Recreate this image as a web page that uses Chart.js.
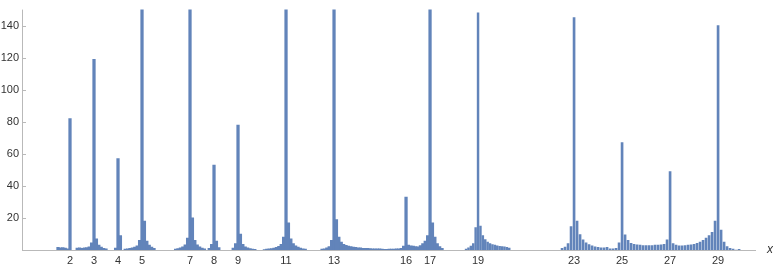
<!DOCTYPE html>
<html><head><meta charset="utf-8">
<script src="https://cdn.jsdelivr.net/npm/chart.js@4"></script>
<style>html,body{margin:0;padding:0;background:#fff;overflow:hidden}</style>
</head><body>
<canvas id="c" width="773" height="270"></canvas>
<script>
// Tick labels
const xTicks = [2,3,4,5,7,8,9,11,13,16,17,19,23,25,27,29];
const yTicks = [20,40,60,80,100,120,140];

// Dense clusters (sample step 0.1): start x and values
const fineStep = 0.1;
const near2  = [1.6,1.3,1.5,1.2,0.8,82];
const near3  = [1.2,1.4,1.1,1.3,1.5,2.0,4.5,119,7,3,1.8,1.1,0.7];
const near4  = [1.2,57,9];
const near5  = [0.6,0.8,1.0,1.3,1.8,2.6,6,200,18,5.5,3,1.8,1.0];
const near7  = [0.6,0.9,1.3,2.0,3.2,7.5,200,20,6,3.2,2.0,1.2,0.7];
const near8  = [1.0,3.5,53,5.5,1.5];
const near9  = [1.2,4,78,10,3.5,2.0,1.3,0.9,0.6,0.4];
const near11 = [0.3,0.5,0.7,0.9,1.2,1.6,2.3,3.5,8,200,17,7,4,2.6,1.8,1.2,0.8,0.5];
const near13 = [0.5,0.8,1.3,2.2,6,200,19,8,5,3.6,2.9,2.4,2.1,1.8,1.6,1.4,1.3,1.1,1.0,1.0,0.9,0.8,0.8,0.7,0.8,0.5,0.4];
const near16 = [0.4,0.5,0.5,0.6,0.7,0.8,1.0,2.5,33,3,2.6,2.5,2.2];
const near17 = [2.0,2.8,4.0,5.5,9,200,17,8,4,2.2,1.0];
const near19 = [0.6,1.4,2.5,4,14,148,15,9,6.5,5,4,3.4,3.0,2.6,2.3,2.1,1.9,1.6,1.2];
const fineStarts = [1.5,2.3,3.9,4.3,6.4,7.8,8.8,10.1,12.5,15.2,16.5];
const fineClusters = [near2,near3,near4,near5,near7,near8,near9,near11,near13,near16,near17];
const midStart = 18.5;

// Coarse clusters (sample step 1/8)
const coarseStep = 0.125;
const near23 = [1.0,1.8,4,14.6,145,18,9.6,6.4,4.4,3.4,2.6,2.0,1.6,1.4,1.4,1.6,0.8,0.8];
const from25 = [1.0,4.4,67,9.5,6,4.2,3.6,3.3,3.0,2.8,2.7,2.7,2.8,3.0,3.0,3.2,3.6,6.4,49,4,3,2.6,2.6,2.8,3.0,3.2,3.6,4.2,5,6,7.5,9,11,18,140,12.4,5,2.2,1.0,0.5,0,0.4];
const coarseStarts = [22.5,24.75];
const coarseClusters = [near23,from25];

function pts(starts, clusters, step){
  const out = [];
  clusters.forEach((vals,k)=>{
    vals.forEach((v,i)=>out.push({x:+(starts[k]+i*step).toFixed(4), y:v}));
  });
  return out;
}

const barColor = 'rgb(98,132,186)';
const axisColor = '#b9b9b9';
const labelColor = '#333';
const FONT = '"Liberation Sans", Arial, sans-serif';

const decor = {
  id:'decor',
  beforeDatasetsDraw(chart){
    const {ctx, chartArea:a, scales:{x,y}} = chart;
    ctx.save();
    ctx.strokeStyle = axisColor; ctx.lineWidth = 1;
    ctx.beginPath();
    ctx.moveTo(a.left+0.5, a.top); ctx.lineTo(a.left+0.5, a.bottom);
    ctx.moveTo(a.left, a.bottom+0.5); ctx.lineTo(a.right, a.bottom+0.5);
    yTicks.forEach(v=>{const p=Math.round(y.getPixelForValue(v))+0.5; ctx.moveTo(a.left,p); ctx.lineTo(a.left+4,p);});
    xTicks.forEach(v=>{const p=Math.round(x.getPixelForValue(v))+0.5; ctx.moveTo(p,a.bottom); ctx.lineTo(p,a.bottom-3);});
    ctx.stroke();
    ctx.restore();
  },
  afterDraw(chart){
    const {ctx, chartArea:a} = chart;
    ctx.save();
    ctx.fillStyle = labelColor;
    ctx.font = 'italic 12px ' + FONT;
    ctx.textBaseline = 'middle'; ctx.textAlign = 'left';
    ctx.fillText('x', a.right+11, a.bottom);
    ctx.restore();
  }
};

new Chart(document.getElementById('c'), {
  type:'bar',
  data:{datasets:[
    {data:pts(fineStarts,fineClusters,fineStep), backgroundColor:barColor, barThickness:2.6, grouped:false},
    {data:pts([midStart],[near19],fineStep), backgroundColor:barColor, barThickness:1.8, grouped:false},
    {data:pts(coarseStarts,coarseClusters,coarseStep), backgroundColor:barColor, barThickness:2, grouped:false}
  ]},
  plugins:[decor],
  options:{
    responsive:false, animation:false, devicePixelRatio:1,
    layout:{padding:{left:0,right:17,top:0,bottom:0}},
    plugins:{legend:{display:false}, tooltip:{enabled:false}},
    scales:{
      x:{type:'linear', min:0, max:30.58, offset:false,
         grid:{display:false, drawTicks:false, tickLength:0}, border:{display:false},
         afterBuildTicks:s=>{s.ticks = xTicks.map(v=>({value:v}));},
         afterFit:s=>{s.height = 20;},
         ticks:{autoSkip:false, maxRotation:0, padding:4, color:labelColor, font:{family:FONT,size:11}, callback:v=>String(v)}},
      y:{min:0, max:150,
         grid:{display:false, drawTicks:false, tickLength:0}, border:{display:false},
         afterBuildTicks:s=>{s.ticks = yTicks.map(v=>({value:v}));},
         afterFit:s=>{s.width = 22;},
         ticks:{padding:3, color:labelColor, font:{family:FONT,size:11}, callback:v=>String(v)}}
    }
  }
});
</script>
</body></html>
